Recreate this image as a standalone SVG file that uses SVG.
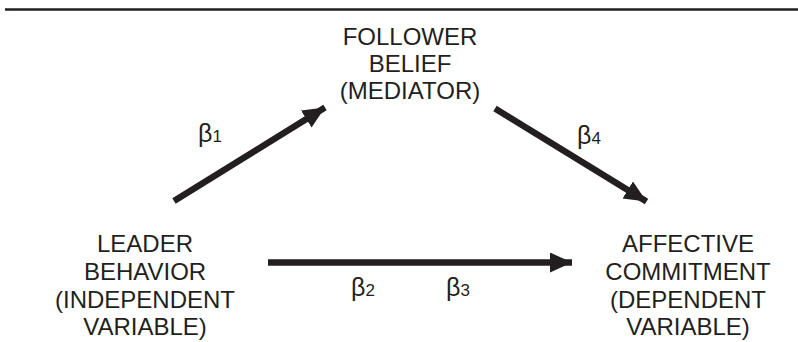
<svg xmlns="http://www.w3.org/2000/svg" width="798" height="342" viewBox="0 0 798 342">
<style>
text{font-family:"Liberation Sans",Arial,sans-serif;fill:#231f20}
.n{font-size:24px;text-anchor:middle}
.b{font-size:25px}
.s{font-size:17px}
.sh{stroke:#231f20;stroke-width:6.5;fill:none}
</style>
<defs>
<marker id="ah" markerUnits="userSpaceOnUse" markerWidth="24" markerHeight="22" refX="22" refY="10" orient="auto" viewBox="0 0 24 22">
<path d="M0,0 L22,10 L0,20 Z" fill="#231f20"/>
</marker>
</defs>
<rect x="0" y="0" width="798" height="342" fill="#fff"/>
<line x1="5" y1="9.5" x2="798" y2="9.5" stroke="#231f20" stroke-width="2.5"/>
<g id="follower">
<text class="n" x="410" y="45">FOLLOWER</text>
<text class="n" x="410" y="72">BELIEF</text>
<text class="n" x="410" y="98.5">(MEDIATOR)</text>
</g>
<g id="leader">
<text class="n" x="145" y="251.5">LEADER</text>
<text class="n" x="145" y="279.5">BEHAVIOR</text>
<text class="n" x="145" y="307.5">(INDEPENDENT</text>
<text class="n" x="145" y="335">VARIABLE)</text>
</g>
<g id="commitment">
<text class="n" x="688" y="251.5">AFFECTIVE</text>
<text class="n" x="688" y="279.5">COMMITMENT</text>
<text class="n" x="688" y="307.5">(DEPENDENT</text>
<text class="n" x="688" y="335">VARIABLE)</text>
</g>
<g id="connectors">
<line class="sh" x1="174" y1="201" x2="325" y2="107.5" marker-end="url(#ah)"/>
<line class="sh" x1="495" y1="108.5" x2="646.5" y2="201.5" marker-end="url(#ah)"/>
<line class="sh" x1="268" y1="262.5" x2="572" y2="262.5" marker-end="url(#ah)"/>
</g>
<g id="labels">
<text class="b" x="198" y="142">β<tspan class="s">1</tspan></text>
<text class="b" x="577" y="144">β<tspan class="s">4</tspan></text>
<text class="b" x="351" y="296">β<tspan class="s">2</tspan></text>
<text class="b" x="446" y="296">β<tspan class="s">3</tspan></text>
</g>
</svg>
